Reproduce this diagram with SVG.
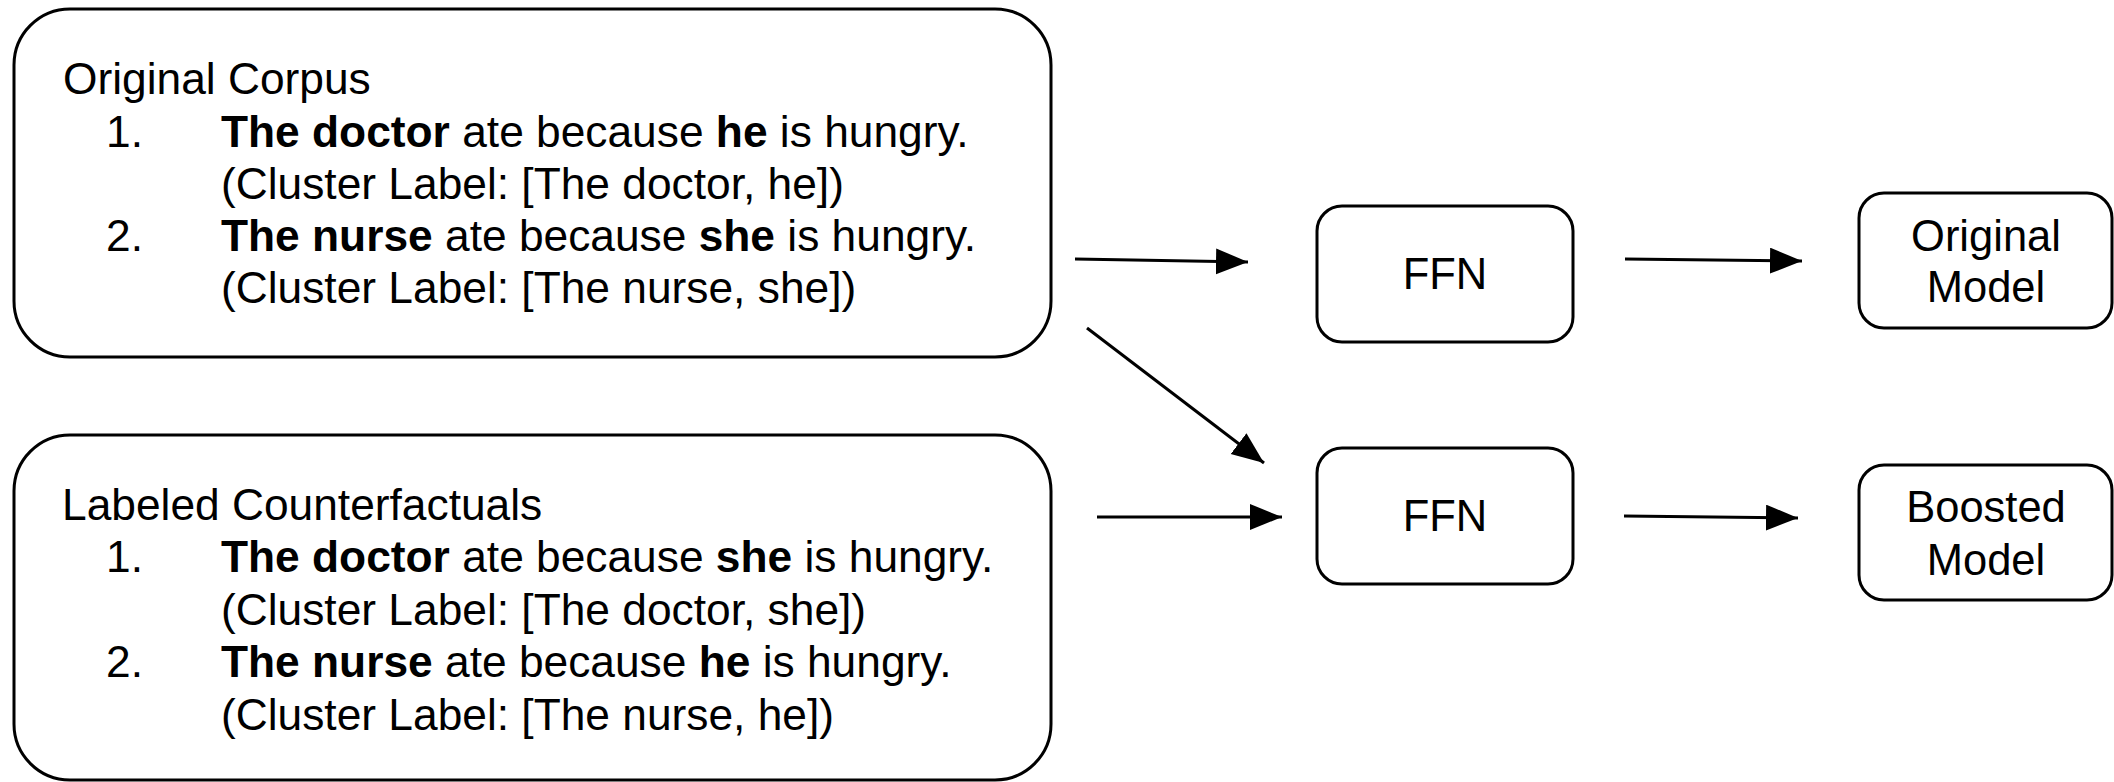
<svg xmlns="http://www.w3.org/2000/svg" width="2114" height="782" viewBox="0 0 2114 782">
<style>
.box{fill:#fff;stroke:#000;stroke-width:3}
.t{font-family:"Liberation Sans",Arial,sans-serif;font-size:43.5px;fill:#000}
.p{font-size:44.3px}
.b{font-weight:bold}
.c{text-anchor:middle}
.conn{stroke:#000;stroke-width:3;fill:none;marker-end:url(#ah)}
</style>
<defs>
<marker id="ah" markerUnits="userSpaceOnUse" markerWidth="34" markerHeight="28" refX="32" refY="13" orient="auto">
<path d="M0,0 L32,13 L0,26 z" fill="#000"/>
</marker>
</defs>
<rect width="2114" height="782" fill="#fff"/>
<g id="original-corpus">
<rect class="box" x="14" y="9" width="1037" height="348" rx="56" ry="56"/>
<text class="t p" x="63" y="94">Original Corpus</text>
<text class="t p" x="106" y="147">1.</text>
<text class="t p" x="221" y="147"><tspan class="b">The doctor</tspan> ate because <tspan class="b">he</tspan> is hungry.</text>
<text class="t p" x="221" y="199">(Cluster Label: [The doctor, he])</text>
<text class="t p" x="106" y="251">2.</text>
<text class="t p" x="221" y="251"><tspan class="b">The nurse</tspan> ate because <tspan class="b">she</tspan> is hungry.</text>
<text class="t p" x="221" y="303">(Cluster Label: [The nurse, she])</text>
</g>
<g id="labeled-counterfactuals">
<rect class="box" x="14" y="435" width="1037" height="345" rx="56" ry="56"/>
<text class="t p" x="62" y="520">Labeled Counterfactuals</text>
<text class="t p" x="106" y="572">1.</text>
<text class="t p" x="221" y="572"><tspan class="b">The doctor</tspan> ate because <tspan class="b">she</tspan> is hungry.</text>
<text class="t p" x="221" y="625">(Cluster Label: [The doctor, she])</text>
<text class="t p" x="106" y="677">2.</text>
<text class="t p" x="221" y="677"><tspan class="b">The nurse</tspan> ate because <tspan class="b">he</tspan> is hungry.</text>
<text class="t p" x="221" y="730">(Cluster Label: [The nurse, he])</text>
</g>
<g id="ffn-top">
<rect class="box" x="1317" y="206" width="256" height="136" rx="25" ry="25"/>
<text class="t c" x="1445" y="289">FFN</text>
</g>
<g id="ffn-bottom">
<rect class="box" x="1317" y="448" width="256" height="136" rx="25" ry="25"/>
<text class="t c" x="1445" y="531">FFN</text>
</g>
<g id="original-model">
<rect class="box" x="1859" y="193" width="253" height="135" rx="25" ry="25"/>
<text class="t c" x="1986" y="251">Original</text>
<text class="t c" x="1986" y="302">Model</text>
</g>
<g id="boosted-model">
<rect class="box" x="1859" y="465" width="253" height="135" rx="25" ry="25"/>
<text class="t c" x="1986" y="522">Boosted</text>
<text class="t c" x="1986" y="575">Model</text>
</g>
<g id="connectors">
<line class="conn" x1="1075" y1="259" x2="1248" y2="262"/>
<line class="conn" x1="1087" y1="328" x2="1264" y2="463"/>
<line class="conn" x1="1097" y1="517" x2="1282" y2="517"/>
<line class="conn" x1="1625" y1="259" x2="1802" y2="261"/>
<line class="conn" x1="1624" y1="516" x2="1798" y2="518"/>
</g>
</svg>
